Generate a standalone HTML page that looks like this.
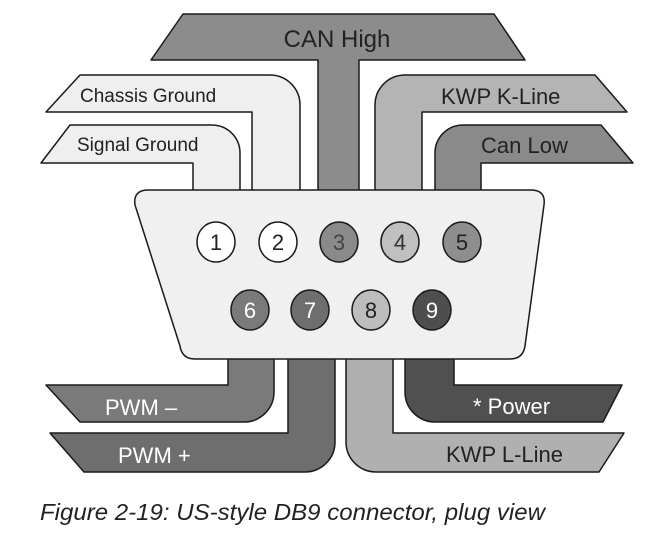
<!DOCTYPE html>
<html><head><meta charset="utf-8"><style>
html,body{margin:0;padding:0;background:#fff;}
svg{display:block;}
text{font-family:"Liberation Sans",sans-serif;}
</style></head><body>
<svg width="658" height="536" viewBox="0 0 658 536" xmlns="http://www.w3.org/2000/svg">
<g stroke="#1a1a1a" stroke-width="1.5" stroke-linejoin="round">
<path d="M183,14 L494,14 L525,60 L359,60 L359,195 L318,195 L318,60 L151,60 Z" fill="#8c8c8c"/>
<path d="M80,75 L270,75 A30,30 0 0 1 300,105 L300,195 L252,195 L252,112 L46,112 Z" fill="#efefef"/>
<path d="M70,125 L212,125 A28,28 0 0 1 240,153 L240,195 L193,195 L193,163 L41,163 Z" fill="#efefef"/>
<path d="M595,75 L405,75 A30,30 0 0 0 375,105 L375,195 L422,195 L422,112 L627,112 Z" fill="#b4b4b4"/>
<path d="M601,125 L463,125 A28,28 0 0 0 435,153 L435,195 L481,195 L481,163 L633,163 Z" fill="#8a8a8a"/>
<path d="M228,350 L228,385 L46,385 L80,422 L244,422 A30,30 0 0 0 274,392 L274,350 Z" fill="#7a7a7a"/>
<path d="M288,350 L288,433 L50,433 L84,472 L305,472 A30,30 0 0 0 335,442 L335,350 Z" fill="#6e6e6e"/>
<path d="M393,350 L393,433 L624,433 L599,472 L376,472 A30,30 0 0 1 346,442 L346,350 Z" fill="#b0b0b0"/>
<path d="M454,350 L454,385 L622,385 L603,422 L435,422 A30,30 0 0 1 405,392 L405,350 Z" fill="#505050"/>
<path d="M148,190 L531,190 Q546,190 544,205 L525,346 Q523,359 510,359 L195,359 Q182,359 180,346 L135,205 Q133,190 148,190 Z" fill="#f0f0f0"/>
<ellipse cx="216" cy="242" rx="19" ry="20" fill="#fff"/>
<ellipse cx="278" cy="242" rx="19" ry="20" fill="#fff"/>
<ellipse cx="339" cy="242" rx="19" ry="20" fill="#8a8a8a"/>
<ellipse cx="400" cy="242" rx="19" ry="20" fill="#c0c0c0"/>
<ellipse cx="462" cy="242" rx="19" ry="20" fill="#8e8e8e"/>
<ellipse cx="250" cy="310" rx="19" ry="20" fill="#7a7a7a"/>
<ellipse cx="310" cy="310" rx="19" ry="20" fill="#6e6e6e"/>
<ellipse cx="371" cy="310" rx="19" ry="20" fill="#bdbdbd"/>
<ellipse cx="432" cy="310" rx="19" ry="20" fill="#4e4e4e"/>
</g>
<g font-size="22" text-anchor="middle">
<text x="216" y="250" fill="#222">1</text>
<text x="278" y="250" fill="#222">2</text>
<text x="339" y="250" fill="#444">3</text>
<text x="400" y="250" fill="#333">4</text>
<text x="462" y="250" fill="#222">5</text>
<text x="250" y="318" fill="#fff">6</text>
<text x="310" y="318" fill="#fff">7</text>
<text x="371" y="318" fill="#222">8</text>
<text x="432" y="318" fill="#fff">9</text>
</g>
<text x="337" y="47" font-size="24" text-anchor="middle" fill="#222">CAN High</text>
<text x="80" y="102" font-size="19" fill="#222">Chassis Ground</text>
<text x="77" y="151" font-size="19" fill="#222">Signal Ground</text>
<text x="441" y="104" font-size="22" fill="#222">KWP K-Line</text>
<text x="481" y="153" font-size="22" fill="#222">Can Low</text>
<text x="105" y="415" font-size="22" fill="#fff">PWM –</text>
<text x="118" y="463" font-size="22" fill="#fff">PWM +</text>
<text x="473" y="414" font-size="22" fill="#fff">* Power</text>
<text x="446" y="462" font-size="22" fill="#222">KWP L-Line</text>
<text x="40" y="520" font-size="23" font-style="italic" fill="#222" textLength="505" lengthAdjust="spacingAndGlyphs">Figure 2-19: US-style DB9 connector, plug view</text>
</svg>
</body></html>
